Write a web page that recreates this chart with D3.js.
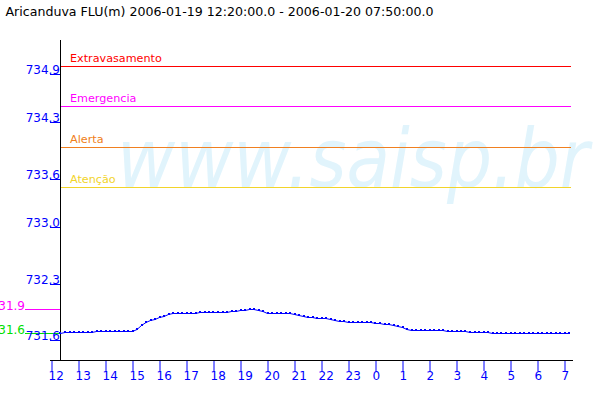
<!DOCTYPE html>
<html>
<head>
<meta charset="utf-8">
<script src="https://cdn.jsdelivr.net/npm/d3@7"></script>
<style>
  html, body { margin: 0; padding: 0; background: #fff; }
  svg { display: block; }
  text { font-family: "DejaVu Sans", sans-serif; }
</style>
</head>
<body>
<script>
// ---------- data ----------
const titleText = "Aricanduva FLU(m) 2006-01-19 12:20:00.0 - 2006-01-20 07:50:00.0";
const seriesStart = new Date(2006, 0, 19, 12, 20);
const stepMinutes = 10;
const levels = [
  731.69,
  731.70, 731.70, 731.70, 731.70, 731.70, 731.70, 731.70,
  731.71, 731.71, 731.71, 731.71, 731.71, 731.71, 731.71, 731.71, 731.71,
  731.74, 731.79, 731.83, 731.85, 731.87, 731.89, 731.90, 731.93,
  731.94, 731.94, 731.94, 731.94, 731.94, 731.94,
  731.95, 731.95, 731.95, 731.95, 731.95, 731.95, 731.95,
  731.96, 731.96, 731.98, 731.98, 731.99, 731.99, 731.98, 731.96,
  731.94, 731.94, 731.94, 731.94, 731.94, 731.94,
  731.93, 731.91, 731.90, 731.89, 731.89, 731.88, 731.88, 731.88, 731.86, 731.85, 731.84, 731.84,
  731.83, 731.83, 731.83, 731.83, 731.83, 731.83,
  731.82, 731.82, 731.80, 731.80, 731.79, 731.78, 731.76, 731.74,
  731.73, 731.73, 731.73, 731.73, 731.73, 731.73, 731.73, 731.73,
  731.71, 731.71, 731.71, 731.71, 731.71,
  731.70, 731.70, 731.70, 731.70, 731.70,
  731.69, 731.69, 731.69, 731.69, 731.69, 731.69, 731.69, 731.69, 731.69,
  731.69, 731.69, 731.69, 731.69, 731.69, 731.69, 731.69, 731.69, 731.69
];
const thresholdNames = ["Extravasamento", "Emergencia", "Alerta", "Atenção"];
const thresholdValues = [735.0, 734.5, 734.0, 733.5];
const thresholdColors = ["#ff0000", "#ff00ff", "#f08020", "#f2d42a"];
const sideLabels = ["731.9", "731.6"];
const sideValues = [731.99, 731.69];
const sideColors = ["#ff00ff", "#00e000"];
const yTickValues = [731.6, 732.3, 733.0, 733.6, 734.3, 734.9];
const yTickLabels = ["731.6", "732.3", "733.0", "733.6", "734.3", "734.9"];
const xTickStart = new Date(2006, 0, 19, 12, 0);
const xTickEnd = new Date(2006, 0, 20, 7, 0);
const watermarkText = "www.saisp.br";

// ---------- layout ----------
const W = 600, H = 400;
const axisX = 60, axisTop = 40, axisY = 360;
const plotRight = 571;

const svg = d3.select("body").append("svg").attr("width", W).attr("height", H);

const x = d3.scaleTime().domain([xTickStart, xTickEnd]).range([51.5, 564.5]);
const y = d3.scaleLinear().domain([731.6, 735.0]).range([340.3, 66]);
const py = v => Math.round(y(v)) + 0.5;

const data = levels.map((v, i) => ({ t: new Date(seriesStart.getTime() + i * stepMinutes * 60000), v }));

// watermark
svg.append("text")
  .attr("x", 117).attr("y", 187)
  .attr("font-size", 82)
  .attr("font-style", "italic")
  .attr("fill", "#e1f4fc")
  .attr("textLength", 472)
  .attr("lengthAdjust", "spacingAndGlyphs")
  .text(watermarkText);

// title
svg.append("text")
  .attr("x", 5.5).attr("y", 15.5)
  .attr("font-size", 12.6)
  .attr("fill", "#000")
  .text(titleText);

// threshold lines
const th = svg.append("g");
thresholdValues.forEach((v, i) => {
  th.append("line")
    .attr("x1", axisX + 1).attr("x2", plotRight)
    .attr("y1", py(v)).attr("y2", py(v))
    .attr("stroke", thresholdColors[i]).attr("stroke-width", 1);
  th.append("text")
    .attr("x", 70).attr("y", Math.round(y(v)) - 4)
    .attr("font-size", 11.2)
    .attr("fill", thresholdColors[i])
    .text(thresholdNames[i]);
});

// side reference marks
sideValues.forEach((v, i) => {
  svg.append("line")
    .attr("x1", 25).attr("x2", axisX)
    .attr("y1", py(v)).attr("y2", py(v))
    .attr("stroke", sideColors[i]).attr("stroke-width", 1);
  svg.append("text")
    .attr("x", 25).attr("y", Math.round(y(v)) + 1)
    .attr("text-anchor", "end")
    .attr("font-size", 12)
    .attr("fill", sideColors[i])
    .text(sideLabels[i]);
});

// y ticks
yTickValues.forEach((v, i) => {
  svg.append("line")
    .attr("x1", 50).attr("x2", axisX)
    .attr("y1", py(v)).attr("y2", py(v))
    .attr("stroke", "#0000ff").attr("stroke-width", 1);
  svg.append("text")
    .attr("x", axisX).attr("y", Math.round(y(v)))
    .attr("text-anchor", "end")
    .attr("font-size", 12)
    .attr("fill", "#0000ff")
    .text(yTickLabels[i]);
});

// axes lines
svg.append("line").attr("x1", axisX + 0.5).attr("x2", axisX + 0.5)
  .attr("y1", axisTop).attr("y2", axisY + 1).attr("stroke", "#000");
svg.append("line").attr("x1", 50).attr("x2", 573)
  .attr("y1", axisY + 0.5).attr("y2", axisY + 0.5).attr("stroke", "#000");

// x axis ticks via d3 axis
const xAxis = d3.axisBottom(x)
  .ticks(d3.timeHour.every(1))
  .tickFormat(d => String(d.getHours()))
  .tickSize(10)
  .tickSizeOuter(0);
const gx = svg.append("g").attr("transform", `translate(0,${axisY + 1})`).call(xAxis);
gx.select(".domain").remove();
gx.selectAll(".tick line").attr("stroke", "#0000ff");
gx.selectAll(".tick text")
  .attr("fill", "#0000ff")
  .attr("font-size", 12)
  .attr("font-family", "DejaVu Sans")
  .attr("text-anchor", "start")
  .attr("x", -3.5)
  .attr("dy", null)
  .attr("y", 19);

// series
const line = d3.line().x(d => x(d.t)).y(d => py(d.v));
svg.append("path").datum(data)
  .attr("d", line)
  .attr("fill", "none")
  .attr("stroke", "#0000ff")
  .attr("stroke-width", 1);
svg.append("g").selectAll("rect").data(data).join("rect")
  .attr("x", d => Math.round(x(d.t)) - 1)
  .attr("y", d => Math.round(y(d.v)) - 1)
  .attr("width", 2).attr("height", 2)
  .attr("fill", "#0000ff");
</script>
</body>
</html>
